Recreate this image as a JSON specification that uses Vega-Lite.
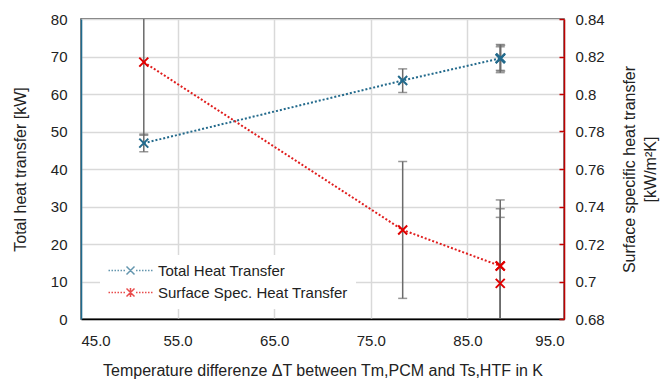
{
  "$schema": "https://vega.github.io/schema/vega-lite/v6.json",
  "width": 483,
  "height": 300,
  "autosize": {"type": "none"},
  "padding": {"left": 81, "top": 19, "right": 96, "bottom": 63},
  "background": "white",
  "config": {
    "font": "Liberation Sans",
    "view": {"stroke": "#404040", "strokeWidth": 1.5},
    "axis": {
      "labelFont": "Liberation Sans",
      "titleFont": "Liberation Sans",
      "labelFontSize": 15,
      "titleFontSize": 16,
      "labelColor": "#222222",
      "titleColor": "#222222",
      "titleFontWeight": "normal",
      "gridColor": "#d9d9d9",
      "gridWidth": 1.5
    },
    "legend": {"labelFont": "Liberation Sans"}
  },
  "datasets": {
    "blue": [
      {"x": 51.5, "y": 46.9, "lo": 44.6, "hi": 49.3, "line": true},
      {"x": 78.3, "y": 63.6, "lo": 60.4, "hi": 66.7, "line": true},
      {"x": 88.4, "y": 69.5, "lo": 65.7, "hi": 73.2, "line": true},
      {"x": 88.4, "y": 69.4, "lo": 66.3, "hi": 72.6, "line": false},
      {"x": 88.45, "y": 69.6, "lo": 66.1, "hi": 73.0, "line": false}
    ],
    "red": [
      {"x": 51.5, "y": 0.817, "lo": 0.778, "hi": 0.856, "line": true},
      {"x": 78.3, "y": 0.7275, "lo": 0.691, "hi": 0.764, "line": true},
      {"x": 88.4, "y": 0.7083, "lo": 0.673, "hi": 0.7435, "line": true},
      {"x": 88.4, "y": 0.7083, "lo": 0.6778, "hi": 0.7388, "line": false},
      {"x": 88.4, "y": 0.699, "lo": 0.6638, "hi": 0.7342, "line": false}
    ]
  },
  "layer": [
    {
      "data": {"name": "blue"},
      "encoding": {
        "x": {"field": "x", "type": "quantitative", "scale": {"domain": [45, 95], "nice": false, "zero": false},
          "axis": {"title": "Temperature differenze ΔT between Tm,PCM and Ts,HTF in K", "values": [45, 55, 65, 75, 85, 95], "format": ".1f", "grid": true, "ticks": false, "domainColor": "#000000", "domainWidth": 1.5, "labelPadding": 14, "titlePadding": 14}},
        "y": {"field": "y", "type": "quantitative", "scale": {"domain": [0, 80], "nice": false},
          "axis": {"title": "Total heat transfer [kW]", "values": [0, 10, 20, 30, 40, 50, 60, 70, 80], "grid": true, "ticks": false, "domainColor": "#1f6b8e", "domainWidth": 1.5, "labelPadding": 14, "titlePadding": 22}}
      },
      "layer": [
        {
          "mark": {"type": "rule", "color": "#6b6b6b", "strokeWidth": 1.5, "clip": true},
          "encoding": {
            "y": {"field": "lo", "type": "quantitative", "title": "Total heat transfer [kW]"},
            "y2": {"field": "hi"}
          }
        },
        {
          "mark": {"type": "tick", "orient": "horizontal", "color": "#6b6b6b", "size": 9, "thickness": 1.5, "clip": true},
          "encoding": {
            "y": {"field": "hi", "type": "quantitative", "title": "Total heat transfer [kW]"}
          }
        },
        {
          "mark": {"type": "tick", "orient": "horizontal", "color": "#6b6b6b", "size": 9, "thickness": 1.5, "clip": true},
          "encoding": {
            "y": {"field": "lo", "type": "quantitative", "title": "Total heat transfer [kW]"}
          }
        },
        {
          "transform": [{"filter": "datum.line"}],
          "mark": {"type": "line", "color": "#236a8c", "strokeWidth": 2, "strokeDash": [2, 2]}
        },
        {
          "mark": {"type": "point", "shape": "M-1,-1L1,1M-1,1L1,-1", "size": 81, "filled": false, "color": "#236a8c", "strokeWidth": 2, "opacity": 1}
        }
      ]
    },
    {
      "data": {"name": "red"},
      "encoding": {
        "x": {"field": "x", "type": "quantitative", "title": "Temperature differenze ΔT between Tm,PCM and Ts,HTF in K"},
        "y": {"field": "y", "type": "quantitative", "scale": {"domain": [0.68, 0.84], "nice": false, "zero": false},
          "axis": {"orient": "right", "title": ["Surface specific heat transfer", "[kW/m²K]"], "titleAngle": -90, "titleLineHeight": 21, "values": [0.68, 0.7, 0.72, 0.74, 0.76, 0.78, 0.8, 0.82, 0.84], "format": "~g", "grid": false, "ticks": true, "tickSize": -5, "tickColor": "#c00000", "tickWidth": 1.5, "domainColor": "#c00000", "domainWidth": 1.5, "labelPadding": 16, "titlePadding": 12}}
      },
      "layer": [
        {
          "mark": {"type": "rule", "color": "#6b6b6b", "strokeWidth": 1.5, "clip": true},
          "encoding": {
            "y": {"field": "lo", "type": "quantitative", "title": "Surface specific heat transfer"},
            "y2": {"field": "hi"}
          }
        },
        {
          "mark": {"type": "tick", "orient": "horizontal", "color": "#6b6b6b", "size": 9, "thickness": 1.5, "clip": true},
          "encoding": {
            "y": {"field": "hi", "type": "quantitative", "title": "Surface specific heat transfer"}
          }
        },
        {
          "mark": {"type": "tick", "orient": "horizontal", "color": "#6b6b6b", "size": 9, "thickness": 1.5, "clip": true},
          "encoding": {
            "y": {"field": "lo", "type": "quantitative", "title": "Surface specific heat transfer"}
          }
        },
        {
          "transform": [{"filter": "datum.line"}],
          "mark": {"type": "line", "color": "#e01e1e", "strokeWidth": 2, "strokeDash": [2, 2]}
        },
        {
          "mark": {"type": "point", "shape": "M-1,-1L1,1M-1,1L1,-1", "size": 81, "filled": false, "color": "#e00000", "strokeWidth": 2, "opacity": 1}
        }
      ]
    },
    {
      "data": {"values": [{"series": "Total Heat Transfer"}, {"series": "Surface Spec. Heat Transfer"}]},
      "transform": [{"filter": "false"}],
      "mark": {"type": "point", "size": 100, "filled": false, "strokeWidth": 1.6},
      "encoding": {
        "color": {"field": "series", "type": "nominal",
          "scale": {"domain": ["Total Heat Transfer", "Surface Spec. Heat Transfer"], "range": ["#236a8c", "#e00000"]},
          "legend": {"orient": "none", "legendX": 19, "legendY": 236, "title": null, "fillColor": "white", "padding": 8, "symbolOffset": 15, "labelOffset": 20, "rowPadding": 6, "labelFontSize": 15, "labelLimit": 320, "labelColor": "#222222"}},
        "shape": {"field": "series", "type": "nominal",
          "scale": {"domain": ["Total Heat Transfer", "Surface Spec. Heat Transfer"], "range": [
            "M-4.4,0h0.3M-3.8,0h0.3M-3.2,0h0.3M-2.6,0h0.3M-2,0h0.3M-1.4,0h0.3M1.1,0h0.3M1.7,0h0.3M2.3,0h0.3M2.9,0h0.3M3.5,0h0.3M4.1,0h0.3M-0.8,-0.8L0.8,0.8M-0.8,0.8L0.8,-0.8",
            "M-4.4,0h0.3M-3.8,0h0.3M-3.2,0h0.3M-2.6,0h0.3M-2,0h0.3M-1.4,0h0.3M1.1,0h0.3M1.7,0h0.3M2.3,0h0.3M2.9,0h0.3M3.5,0h0.3M4.1,0h0.3M-0.8,-0.8L0.8,0.8M-0.8,0.8L0.8,-0.8M0,-0.9L0,0.9"
          ]}}
      }
    }
  ],
  "resolve": {"scale": {"y": "independent"}}
}
